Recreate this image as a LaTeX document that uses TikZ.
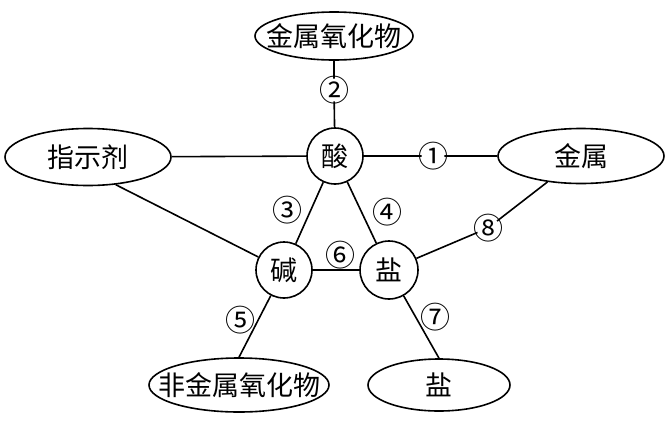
\documentclass[tikz,border=0pt]{standalone}
\usepackage{fontspec}
\setmainfont{Noto Sans CJK SC}
\usetikzlibrary{shapes.geometric}

\begin{document}
\begin{tikzpicture}[x=1pt, y=-1pt, line width=1.6pt,
	oval/.style={draw, ellipse, inner sep=0pt, font=\fontsize{27}{30}\selectfont},
	ball/.style={draw, circle, minimum size=56pt, inner sep=0pt, font=\fontsize{27}{30}\selectfont},
	num/.style={circle, inner sep=0pt, outer sep=-9pt, font=\fontsize{30}{32}\selectfont}]
	\useasboundingbox (0,0) rectangle (669,421);
	% substances
	\node[oval, minimum width=158pt, minimum height=48pt] (mo) at (334,36) {\makebox[0pt]{金属氧化物}};
	\node[oval, minimum width=166pt, minimum height=57pt] (ind) at (88,157) {\makebox[0pt]{指示剂}};
	\node[oval, minimum width=166pt, minimum height=55pt] (metal) at (581,156) {\makebox[0pt]{金属}};
	\node[oval, minimum width=180pt, minimum height=54pt] (nmo) at (239,385) {\makebox[0pt]{非金属氧化物}};
	\node[oval, minimum width=142pt, minimum height=52pt] (salt2) at (439,385) {\makebox[0pt]{盐}};
	\node[ball] (acid) at (335,156) {酸};
	\node[ball] (base) at (284,270) {碱};
	\node[ball, minimum size=58pt] (salt) at (389,270) {盐};
	% reaction numbers
	\node[num] (n1) at (433,156) {①};
	\node[num] (n2) at (334,90) {②};
	\node[num] (n3) at (287,210) {③};
	\node[num] (n4) at (387,212) {④};
	\node[num] (n5) at (240,320) {⑤};
	\node[num] (n6) at (340,255) {⑥};
	\node[num] (n7) at (435,317) {⑦};
	\node[num] (n8) at (488,228) {⑧};
	% connections
	\draw (mo) -- (n2) -- (acid);
	\draw (ind) -- (acid) -- (n1) -- (metal);
	\draw (ind.-45) -- (base);
	\draw (acid) -- (base) -- (salt) -- (acid);
	\draw (salt) -- (n8) -- (metal);
	\draw (base) -- (nmo.north);
	\draw (salt) -- (salt2.north);
\end{tikzpicture}
\end{document}
